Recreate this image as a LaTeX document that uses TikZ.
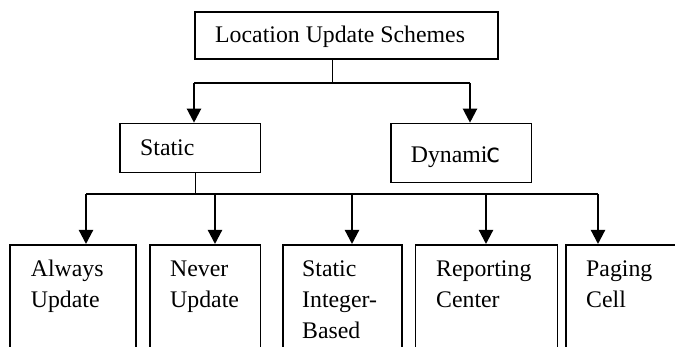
\documentclass[tikz,border=0pt]{standalone}
\usepackage{fontspec}
\setmainfont{Liberation Serif}
\newfontfamily\cfont{DejaVu Sans Mono}
\usetikzlibrary{arrows.meta}
\begin{document}
\begin{tikzpicture}[x=1pt,y=-1pt,
  box/.style={draw=black, line width=1.6pt, inner sep=0pt, anchor=north west},
  txt/.style={inner sep=0pt, anchor=base west, align=left, font=\fontsize{23.8}{31}\selectfont},
  arr/.style={line width=2.2pt, -{Triangle[length=14pt,width=14pt]}},
  bus/.style={line width=2pt},
  stem/.style={line width=1pt}]
\useasboundingbox (0,0) rectangle (675,347);
\clip (0,0) rectangle (675,347);
% boxes
\node[box, minimum width=303pt, minimum height=47pt] (top) at (194,11) {};
\node[box, minimum width=140.5pt, minimum height=49pt] (static) at (119,122.7) {};
\node[box, minimum width=140.5pt, minimum height=59pt] (dynamic) at (390,122.7) {};
\node[box, minimum width=126pt, minimum height=140pt] (b1) at (9,244) {};
\node[box, minimum width=110.5pt, minimum height=140pt] (b2) at (149,244) {};
\node[box, minimum width=119pt, minimum height=140pt] (b3) at (282,244) {};
\node[box, minimum width=142pt, minimum height=140pt] (b4) at (414.5,244) {};
\node[box, minimum width=140pt, minimum height=140pt] (b5) at (565,244) {};
% texts (base anchor = baseline of the last line)
\node[txt] (ttop) at (215,43) {Location Update Schemes};
\node[txt] (tstatic) at (140,155.7) {Static};
\node[txt] (tdynamic) at (410.7,162.3) {Dynami\kern-2.5pt{\cfont\fontsize{26}{31}\selectfont c}};
\node[txt] (t1) at (30.7,307.7) {Always\\Update};
\node[txt] (t2) at (170,307.7) {Never\\Update};
\node[txt] (t3) at (302,338.7) {Static\\Integer-\\Based};
\node[txt] (t4) at (436,307.7) {Reporting\\Center};
\node[txt] (t5) at (586,307.7) {Paging\\Cell};
% first level connectors
\coordinate (s0) at (332,83);
\coordinate (jl) at (194,83);
\coordinate (jr) at (470,83);
\draw[stem] (s0 |- top.south) -- (s0);
\draw[bus] (jl) -- (jr);
\draw[arr] (jl) -- (jl |- static.north);
\draw[arr] (jr) -- (jr |- dynamic.north);
% second level connectors
\coordinate (s1) at (195,194);
\coordinate (k1) at (86,194);
\coordinate (k2) at (215,194);
\coordinate (k3) at (352,194);
\coordinate (k4) at (486,194);
\coordinate (k5) at (598,194);
\draw[stem] (s1 |- static.south) -- (s1);
\draw[bus] (k1) -- (k5);
\draw[arr] (k1) -- (k1 |- b1.north);
\draw[arr] (k2) -- (k2 |- b2.north);
\draw[arr] (k3) -- (k3 |- b3.north);
\draw[arr] (k4) -- (k4 |- b4.north);
\draw[arr] (k5) -- (k5 |- b5.north);
\end{tikzpicture}
\end{document}
